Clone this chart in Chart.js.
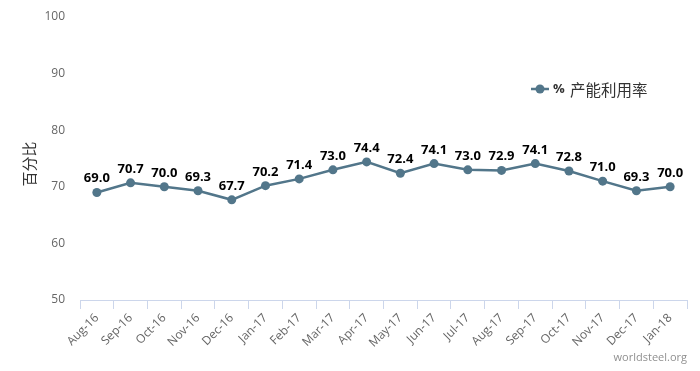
<!DOCTYPE html>
<html>
<head>
<meta charset="utf-8">
<script src="https://cdn.jsdelivr.net/npm/chart.js@4/dist/chart.umd.min.js"></script>
<style>
html,body{margin:0;padding:0;background:#fff;}
#wrap{width:700px;height:371px;position:relative;}
</style>
</head>
<body>
<div id="wrap"><canvas id="c" width="700" height="371"></canvas></div>
<script>
const categories = ["Aug-16","Sep-16","Oct-16","Nov-16","Dec-16","Jan-17","Feb-17","Mar-17","Apr-17","May-17","Jun-17","Jul-17","Aug-17","Sep-17","Oct-17","Nov-17","Dec-17","Jan-18"];
const utilization = [69.0,70.7,70.0,69.3,67.7,70.2,71.4,73.0,74.4,72.4,74.1,73.0,72.9,74.1,72.8,71.0,69.3,70.0];
const yTicks = [50,60,70,80,90,100];
const seriesName = "产能利用率";
const unitLabel = "%";
const yTitle = "百分比";
const credit = "worldsteel.org";

const LINE = "#52768a";

const extras = {
  id: "extras",
  afterDatasetsDraw(chart) {
    const ctx = chart.ctx;
    const meta = chart.getDatasetMeta(0);
    ctx.save();
    ctx.font = "bold 13px 'Open Sans', 'Liberation Sans', sans-serif";
    ctx.fillStyle = "#000";
    ctx.textAlign = "center";
    ctx.textBaseline = "alphabetic";
    meta.data.forEach((pt, i) => {
      ctx.fillText(utilization[i].toFixed(1), pt.x, pt.y - 10);
    });
    ctx.restore();
  },
  afterDraw(chart) {
    const ctx = chart.ctx;
    ctx.save();
    // y axis title
    ctx.translate(29, 164);
    ctx.rotate(-Math.PI / 2);
    ctx.font = "15px 'Noto Sans CJK SC', sans-serif";
    ctx.fillStyle = "#333";
    ctx.textAlign = "center";
    ctx.textBaseline = "middle";
    ctx.fillText(yTitle, 0, 0);
    ctx.restore();

    // legend
    ctx.save();
    const ly = 89;
    ctx.strokeStyle = LINE;
    ctx.lineWidth = 2.5;
    ctx.beginPath();
    ctx.moveTo(531, ly);
    ctx.lineTo(549, ly);
    ctx.stroke();
    ctx.fillStyle = LINE;
    ctx.beginPath();
    ctx.arc(540, ly, 4.5, 0, Math.PI * 2);
    ctx.fill();
    ctx.fillStyle = "#333";
    ctx.textBaseline = "middle";
    ctx.textAlign = "left";
    ctx.font = "bold 13px 'Open Sans', 'Liberation Sans', sans-serif";
    ctx.fillText(unitLabel, 553, ly);
    ctx.font = "15.5px 'Noto Sans CJK SC', sans-serif";
    ctx.fillText(seriesName, 570, ly + 1);
    ctx.restore();

    // credit
    ctx.save();
    ctx.font = "11px 'Open Sans', 'Liberation Sans', sans-serif";
    ctx.fillStyle = "#909090";
    ctx.textAlign = "right";
    ctx.textBaseline = "middle";
    ctx.fillText(credit, 687, 358);
    ctx.restore();
  }
};

new Chart(document.getElementById("c"), {
  type: "line",
  data: {
    labels: categories,
    datasets: [{
      label: seriesName,
      data: utilization,
      borderColor: LINE,
      backgroundColor: LINE,
      borderWidth: 2.5,
      pointRadius: 4.5,
      pointHoverRadius: 4.5,
      pointBackgroundColor: LINE,
      pointBorderWidth: 0,
      tension: 0,
      fill: false
    }]
  },
  options: {
    responsive: false,
    animation: false,
    devicePixelRatio: 1,
    layout: { padding: { top: 17, right: 13, left: 0, bottom: 0 } },
    plugins: { legend: { display: false }, tooltip: { enabled: false } },
    scales: {
      x: {
        offset: true,
        grid: { display: true, drawOnChartArea: false, drawTicks: true, tickLength: 9, color: "#ccd6eb", offset: true },
        border: { display: true, color: "#ccd6eb", width: 1 },
        ticks: {
          color: "#666",
          font: { size: 12, family: "'Open Sans', 'Liberation Sans', sans-serif" },
          minRotation: 45, maxRotation: 45, autoSkip: false, padding: 2
        },
        afterFit(s) { s.height = 71; s.paddingLeft = 0; s.paddingRight = 0; }
      },
      y: {
        min: 50, max: 100,
        afterBuildTicks(s) { s.ticks = yTicks.map(v => ({ value: v })); },
        grid: { display: false, drawTicks: false },
        border: { display: false },
        ticks: {
          color: "#666",
          font: { size: 12, family: "'Open Sans', 'Liberation Sans', sans-serif" },
          padding: 15
        },
        afterFit(s) { s.width = 80; s.paddingTop = 0; s.paddingBottom = 0; }
      }
    }
  },
  plugins: [extras]
});
</script>
</body>
</html>
